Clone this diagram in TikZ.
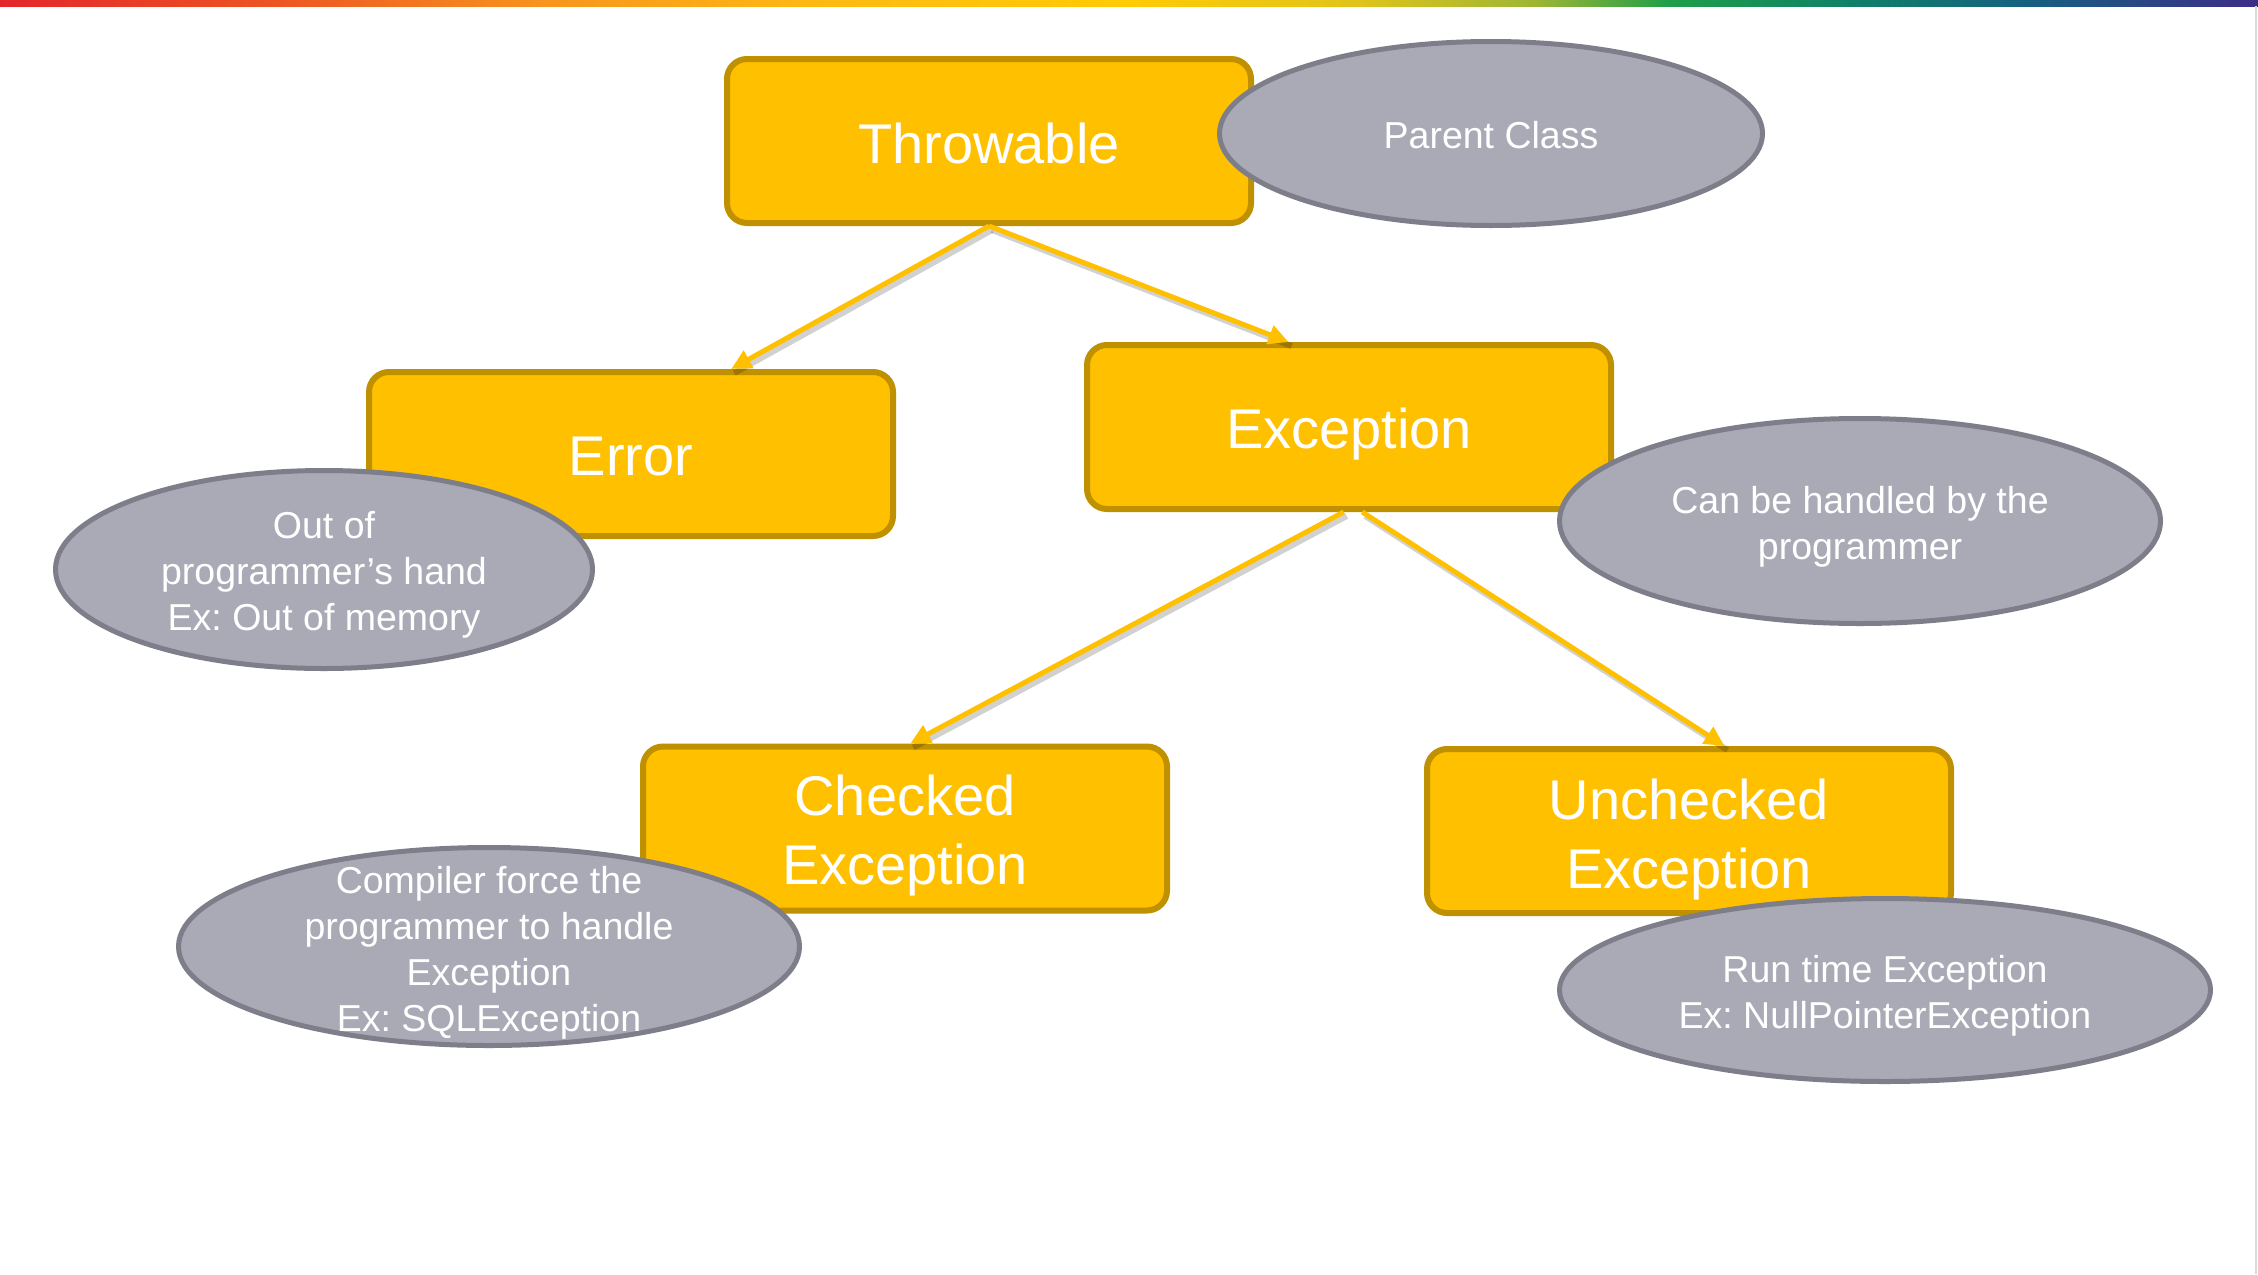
\documentclass[tikz,border=0pt]{standalone}
\usepackage{fontspec}
\setmainfont{Liberation Sans}
\usetikzlibrary{shapes.geometric,arrows.meta,calc}
\frenchspacing
\definecolor{boxfill}{HTML}{FFC000}
\definecolor{boxline}{HTML}{BF9000}
\definecolor{ellfill}{HTML}{A9AAB6}
\definecolor{ellline}{HTML}{7E7E8A}
\definecolor{rbA}{HTML}{E3262A}
\definecolor{rbB}{HTML}{ED5424}
\definecolor{rbC}{HTML}{F7941D}
\definecolor{rbD}{HTML}{FDB913}
\definecolor{rbE}{HTML}{FFCB05}
\definecolor{rbF}{HTML}{E0C41A}
\definecolor{rbG}{HTML}{9DB634}
\definecolor{rbH}{HTML}{1E9E48}
\definecolor{rbI}{HTML}{0F8068}
\definecolor{rbJ}{HTML}{165F80}
\definecolor{rbK}{HTML}{3E2D87}
\pgfdeclarehorizontalshading{rainbow}{100bp}{color(0bp)=(rbA); color(25bp)=(rbA); color(31bp)=(rbB); color(37bp)=(rbC); color(43bp)=(rbD); color(50bp)=(rbE); color(55bp)=(rbF); color(59bp)=(rbG); color(62bp)=(rbH); color(66bp)=(rbI); color(70bp)=(rbJ); color(75bp)=(rbK); color(100bp)=(rbK)}
\begin{document}
\begin{tikzpicture}[x=0.5pt,y=-0.5pt,
  box/.style={draw=boxline, fill=boxfill, line width=3pt, rounded corners=10pt,
    minimum width=262pt, minimum height=82pt, inner sep=0pt},
  btext/.style={text=white, font=\fontsize{28}{34.5}\selectfont\frenchspacing, align=center, inner sep=0pt},
  ell/.style={ellipse, draw=ellline, fill=ellfill, line width=2.5pt, inner sep=0pt},
  etext/.style={text=white, font=\fontsize{18.75}{23}\selectfont\frenchspacing, align=center, inner sep=0pt, yshift=-2.9pt},
  conn/.style={draw=boxfill, line width=2.5pt, -{Triangle[length=10pt,width=9.5pt]}},
  connshadow/.style={draw=black, opacity=0.18, line width=3pt}]
\useasboundingbox (0,0) rectangle (2258,1274);
\fill[white] (0,0) rectangle (2258,1274);
\shade[shading=rainbow] (0,0) rectangle (2258,6);
\draw[gray!30, line width=0.6pt] (2256,6) -- (2256,1274);

% Throwable
\node[box] (thr) at (989,141) {};
\node[btext, yshift=-1.4pt] at (thr) {Throwable};
\node[ell, minimum width=271.5pt, minimum height=92pt] (pc) at (1491,133.5) {};
\node[etext, yshift=2.2pt] at (pc) {Parent Class};

% Error
\node[box] (err) at (631,454) {};
\node[btext, yshift=-1.4pt] at (err) {Error};
\node[ell, minimum width=268.5pt, minimum height=99pt] (eo) at (324,569.5) {};
\node[etext] at (eo) {Out of\\programmer’s hand\\Ex: Out of memory};

% Exception
\node[box] (exc) at (1349,427) {};
\node[btext, yshift=-3.6pt] at (exc) {Exception};
\node[ell, minimum width=300.5pt, minimum height=102.5pt] (ch) at (1860,521) {};
\node[etext] at (ch) {Can be handled by the\\programmer};

% Checked
\node[box] (chk) at (905,828.5) {};
\node[btext, yshift=-3.6pt] at (chk) {Checked\\Exception};
\node[ell, minimum width=310.5pt, minimum height=99pt] (co) at (489,946.5) {};
\node[etext] at (co) {Compiler force the\\programmer to handle\\Exception\\Ex: SQLException};

% Unchecked
\node[box] (unc) at (1689,831) {};
\node[btext, yshift=-4.3pt] at (unc) {Unchecked\\Exception};
\node[ell, minimum width=325.5pt, minimum height=91.5pt] (rt) at (1885,990) {};
\node[etext] at (rt) {Run time Exception\\Ex: NullPointerException};

% connectors
\coordinate (t0) at (thr.south);
\coordinate (e1) at ($(err.north west)!0.689!(err.north east)$);
\coordinate (e2) at ($(exc.north west)!0.386!(exc.north east)$);
\coordinate (x1) at ($(exc.south west)!0.49!(exc.south east)$);
\coordinate (x2) at ($(exc.south west)!0.525!(exc.south east)$);
\coordinate (c1) at ($(chk.north west)!0.51!(chk.north east)$);
\coordinate (u1) at ($(unc.north west)!0.567!(unc.north east)$);
\begin{scope}[transform canvas={shift={(1.5pt,-2pt)}}]
\draw[connshadow] (t0) -- (e1);
\draw[connshadow] (t0) -- (e2);
\draw[connshadow] (x1) -- (c1);
\draw[connshadow] (x2) -- (u1);
\end{scope}
\draw[conn] (t0) -- (e1);
\draw[conn] (t0) -- (e2);
\draw[conn] (x1) -- (c1);
\draw[conn] (x2) -- (u1);
\end{tikzpicture}
\end{document}
